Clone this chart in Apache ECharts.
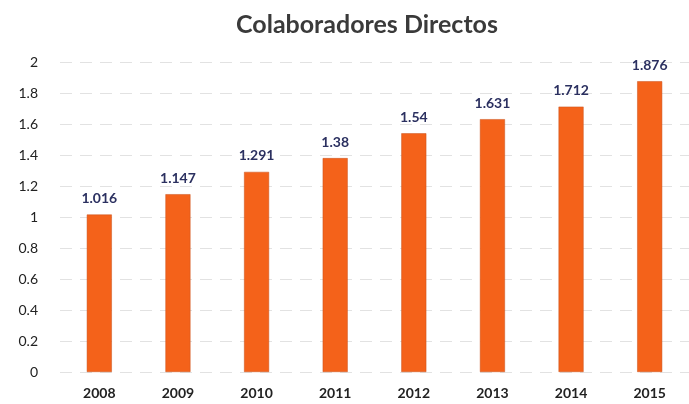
<!DOCTYPE html>
<html><head><meta charset="utf-8">
<script src="https://cdn.jsdelivr.net/npm/echarts@6/dist/echarts.min.js"></script>
<style>html,body{margin:0;padding:0;background:#fff}#c{width:689px;height:404px}</style>
</head><body><div id="c"></div>
<script>
const categories = ['2008','2009','2010','2011','2012','2013','2014','2015'];
const values = [1.016, 1.147, 1.291, 1.38, 1.54, 1.631, 1.712, 1.876];
const chart = echarts.init(document.getElementById('c'));
chart.setOption({
  animation: false,
  title: {
    text: 'Colaboradores Directos', left: 362, top: 7, textAlign: 'center',
    textStyle: { fontFamily: 'Lato', fontWeight: 'bold', fontSize: 25, color: '#3a3a3a' }
  },
  grid: { left: 60, top: 62, bottom: 32, width: 640 },
  xAxis: {
    type: 'category', data: categories,
    axisLine: { show: false }, axisTick: { show: false },
    axisLabel: { fontFamily: 'Lato', fontWeight: 'bold', fontSize: 14, color: '#222', margin: 14 }
  },
  yAxis: {
    type: 'value', min: 0, max: 2, interval: 0.2,
    axisLabel: { fontFamily: 'Lato', fontSize: 14, color: '#222', margin: 22,
      formatter: v => String(Math.round(v * 10) / 10) },
    splitLine: { lineStyle: { color: '#e2e2e2', type: [12, 8] } }
  },
  series: [{
    type: 'bar', data: values, barWidth: 25,
    itemStyle: { color: '#f4621a', borderColor: '#c8501a', borderWidth: 0.5 },
    label: { show: true, position: 'top', distance: 9, fontFamily: 'Lato', fontWeight: 'bold',
      fontSize: 14, color: '#2b3060' }
  }]
});
</script></body></html>
